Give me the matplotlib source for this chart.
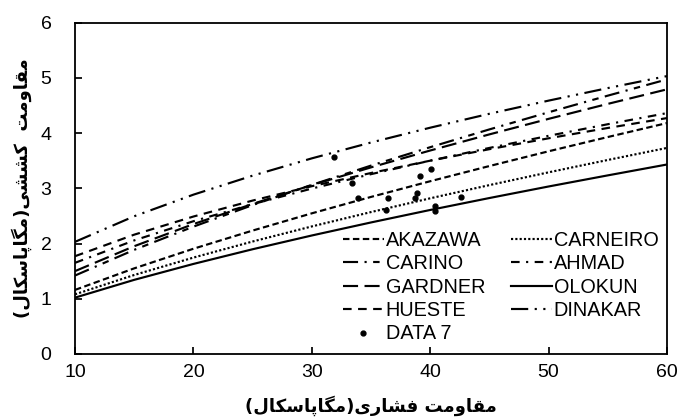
import matplotlib
matplotlib.use("Agg")
import matplotlib.pyplot as plt

# ---------------- data ----------------
fc = [10, 15, 20, 25, 30, 35, 40, 45, 50, 55, 60]
akazawa  = [1.16, 1.550, 1.905, 2.234, 2.546, 2.843, 3.127, 3.402, 3.669, 3.927, 4.18]
carneiro = [1.08, 1.430, 1.745, 2.036, 2.309, 2.569, 2.818, 3.057, 3.288, 3.512, 3.73]
carino   = [1.42, 1.885, 2.305, 2.695, 3.061, 3.410, 3.743, 4.065, 4.375, 4.676, 4.97]
ahmad    = [1.65, 2.056, 2.403, 2.712, 2.994, 3.255, 3.499, 3.730, 3.949, 4.159, 4.36]
gardner  = [1.50, 1.951, 2.351, 2.716, 3.057, 3.378, 3.683, 3.975, 4.256, 4.527, 4.79]
olokun   = [1.02, 1.342, 1.630, 1.896, 2.145, 2.381, 2.607, 2.823, 3.032, 3.233, 3.43]
hueste   = [1.77, 2.160, 2.488, 2.777, 3.037, 3.276, 3.499, 3.707, 3.904, 4.091, 4.27]
dinakar  = [2.03, 2.493, 2.884, 3.228, 3.541, 3.828, 4.096, 4.348, 4.586, 4.813, 5.03]

data7_x = [31.9, 33.4, 33.9, 36.4, 36.3, 39.1, 38.85, 38.75, 40.1, 40.4, 40.4, 42.6]
data7_y = [3.57, 3.09, 2.82, 2.83, 2.61, 3.23, 2.91, 2.83, 3.35, 2.68, 2.58, 2.84]

xticks = [10, 20, 30, 40, 50, 60]
yticks = [0, 1, 2, 3, 4, 5, 6]
XLABEL = "مقاومت فشاری(مگاپاسکال)"
YLABEL = "مقاومت  کششی(مگاپاسکال)"

# ---------------- simple Persian shaping for display ----------------
FORMS = {
    'م': (0xFEE1, 0xFEE2, 0xFEE3, 0xFEE4), 'ق': (0xFED5, 0xFED6, 0xFED7, 0xFED8),
    'ا': (0xFE8D, 0xFE8E), 'و': (0xFEED, 0xFEEE), 'ر': (0xFEAD, 0xFEAE),
    'ت': (0xFE95, 0xFE96, 0xFE97, 0xFE98), 'ف': (0xFED1, 0xFED2, 0xFED3, 0xFED4),
    'ش': (0xFEB5, 0xFEB6, 0xFEB7, 0xFEB8), 'ی': (0xFBFC, 0xFBFD, 0xFBFE, 0xFBFF),
    'گ': (0xFB92, 0xFB93, 0xFB94, 0xFB95), 'پ': (0xFB56, 0xFB57, 0xFB58, 0xFB59),
    'س': (0xFEB1, 0xFEB2, 0xFEB3, 0xFEB4), 'ک': (0xFB8E, 0xFB8F, 0xFB90, 0xFB91),
    'ل': (0xFEDD, 0xFEDE, 0xFEDF, 0xFEE0),
}


def shape_rtl(s):
    out = []
    n = len(s)
    for i, ch in enumerate(s):
        if ch not in FORMS:
            out.append(ch)
            continue
        f = FORMS[ch]
        prev = s[i - 1] if i > 0 else None
        nxt = s[i + 1] if i < n - 1 else None
        cp = prev in FORMS and len(FORMS[prev]) == 4
        cn = len(f) == 4 and nxt in FORMS
        if cp and cn:
            g = f[3]
        elif cp:
            g = f[1]
        elif cn:
            g = f[2]
        else:
            g = f[0]
        out.append(chr(g))
    vis = out[::-1]
    swap = {'(': ')', ')': '('}
    return ''.join(swap.get(c, c) for c in vis)


# ---------------- figure ----------------
plt.rcParams['font.family'] = ['Liberation Sans', 'DejaVu Sans']
fig = plt.figure(figsize=(6.78, 4.17), dpi=100)
ax = fig.add_axes([75 / 678, 1 - 354 / 417, 592 / 678, (354 - 22.5) / 417])

lw = 1.55
ax.plot(fc, akazawa, color='black', lw=lw, dashes=(3, 1.6), label='AKAZAWA')
ax.plot(fc, carino, color='black', lw=lw, dashes=(7, 3, 1, 3, 3, 3), label='CARINO')
ax.plot(fc, gardner, color='black', lw=lw, dashes=(7, 3), label='GARDNER')
ax.plot(fc, hueste, color='black', lw=lw, dashes=(4, 3), label='HUESTE')
ax.plot(data7_x, data7_y, linestyle='none', marker='o', ms=3.5, color='black', label='DATA 7')
ax.plot(fc, carneiro, color='black', lw=lw, dashes=(1, 1), label='CARNEIRO')
ax.plot(fc, ahmad, color='black', lw=lw, dashes=(4, 3, 1, 3), label='AHMAD')
ax.plot(fc, olokun, color='black', lw=lw, label='OLOKUN')
ax.plot(fc, dinakar, color='black', lw=lw, dashes=(8, 3, 1, 3, 1, 3), label='DINAKAR')

ax.set_xlim(10, 60)
ax.set_ylim(0, 6)
ax.set_xticks(xticks)
ax.set_yticks(yticks)
ax.tick_params(axis='both', direction='in', length=5, width=1.25, labelsize=14, colors='black')
ax.tick_params(axis='x', pad=7)
ax.tick_params(axis='y', pad=17)
for sp in ax.spines.values():
    sp.set_linewidth(1.3)
    sp.set_color('black')

ax.set_xlabel(shape_rtl(XLABEL), fontsize=13, fontweight='bold', family=['DejaVu Sans'])
ax.xaxis.set_label_coords(0.5, -0.155)
ax.xaxis.label.set_va('center')
ax.set_ylabel(shape_rtl(YLABEL), fontsize=13, fontweight='bold', family=['DejaVu Sans'])
ax.yaxis.set_label_coords((22 - 75) / 592, 0.5)
ax.yaxis.label.set_va('center')

leg = ax.legend(ncol=2, frameon=False, loc='upper left',
                bbox_to_anchor=(343 / 678, 1 - 231 / 417), bbox_transform=fig.transFigure,
                borderpad=0, borderaxespad=0, handlelength=2.05, handletextpad=0.1,
                columnspacing=1.3, labelspacing=0.22, fontsize=14.3)

fig.savefig('out.png', dpi=100, facecolor='white')
